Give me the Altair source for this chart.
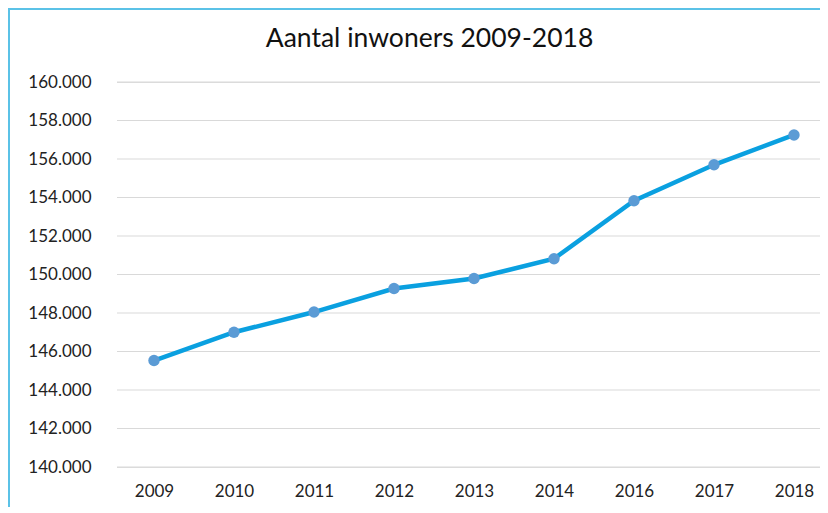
import altair as alt
import pandas as pd

years = ["2009", "2010", "2011", "2012", "2013", "2014", "2016", "2017", "2018"]
inwoners = [145530, 147000, 148050, 149270, 149790, 150820, 153830, 155700, 157250]
y_ticks = [140000, 142000, 144000, 146000, 148000, 150000, 152000, 154000, 156000, 158000, 160000]
title_text = "Aantal inwoners 2009-2018"

df = pd.DataFrame({"jaar": years, "inwoners": inwoners})
grid_df = pd.DataFrame({"v": y_ticks})

W, H = 706, 385
PL, PT, PR, PB = 106, 74, 0, 40
FONT = "Lato"

x_enc = alt.X("jaar:N", sort=years, title=None,
              scale=alt.Scale(type="point", range=[40, 680], padding=0),
              axis=alt.Axis(domain=False, ticks=False, grid=False, labelAngle=0,
                            labelFont=FONT, labelFontSize=17, labelColor="#222222",
                            labelPadding=16))
y_scale = alt.Scale(domain=[140000, 160000], nice=False, zero=False)
y_axis = alt.Axis(values=y_ticks, domain=False, ticks=False, grid=False,
                  labelFont=FONT, labelFontSize=17, labelColor="#222222",
                  labelPadding=23,
                  labelExpr="replace(format(datum.value, ','), ',', '.')")
y_enc = alt.Y("inwoners:Q", title=None, scale=y_scale, axis=y_axis)

grid = alt.Chart(grid_df).mark_rule(color="#d9d9d9", strokeWidth=1).encode(
    y=alt.Y("v:Q", title=None, scale=y_scale, axis=y_axis), x=alt.value(3), x2=alt.value(W))

line = alt.Chart(df).mark_line(color="#0AA0E0", strokeWidth=4.5).encode(x=x_enc, y=y_enc)
points = alt.Chart(df).mark_circle(color="#5B9BD5", size=130, opacity=1).encode(x=x_enc, y=y_enc)

title = alt.Chart(pd.DataFrame({"t": [title_text]})).mark_text(
    font=FONT, fontSize=26.5, color="#111111", align="center", baseline="alphabetic"
).encode(text="t:N", x=alt.value(315.5), y=alt.value(-35))

left_border = alt.Chart(df.head(1)).mark_rule(color="#5BC2E7", strokeWidth=2).encode(
    x=alt.value(-105), y=alt.value(-74), y2=alt.value(H + PB))
top_border = alt.Chart(df.head(1)).mark_rule(color="#5BC2E7", strokeWidth=2).encode(
    x=alt.value(-106), x2=alt.value(W + PR), y=alt.value(-73))
edge_cover = alt.Chart(df.head(1)).mark_rule(color="white", strokeWidth=5).encode(
    x=alt.value(0.5), y=alt.value(-3), y2=alt.value(H + 3))

chart = alt.layer(grid, line, points, title, left_border, top_border, edge_cover).properties(
    width=W, height=H,
    padding={"left": PL, "top": PT, "right": PR, "bottom": PB},
    autosize=alt.AutoSizeParams(type="none"),
).configure_view(
    stroke="transparent", strokeWidth=0
).configure(background="white")

chart.save("out.html", embed_options={"renderer": "svg", "actions": False})
